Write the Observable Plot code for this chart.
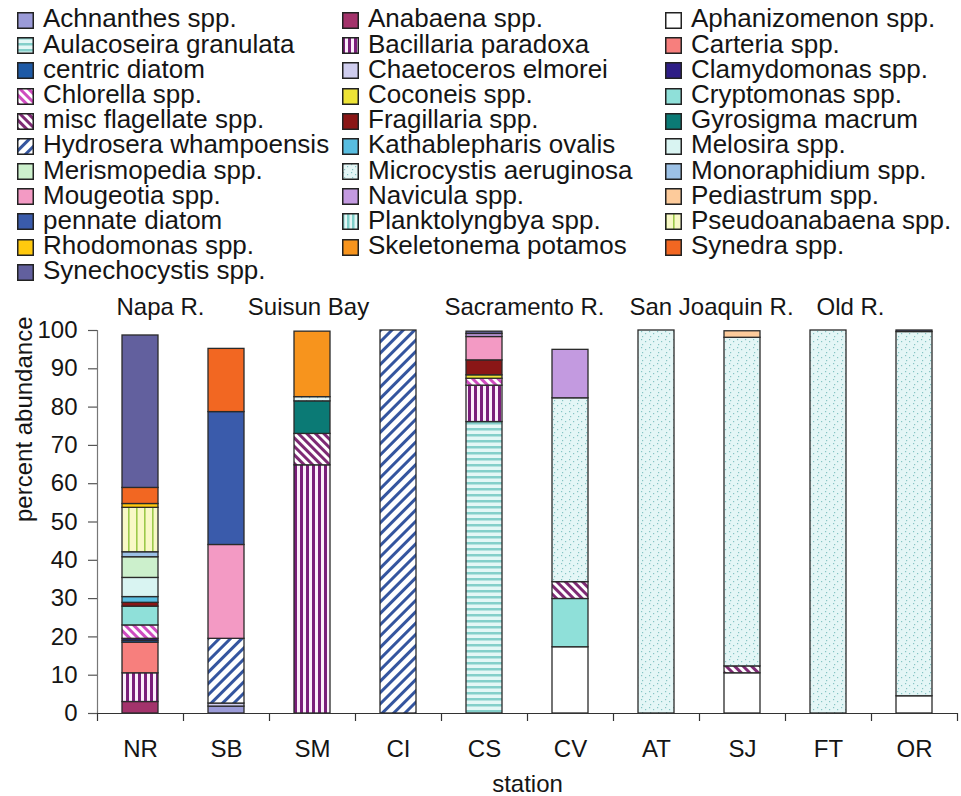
<!DOCTYPE html>
<html><head><meta charset="utf-8">
<script src="https://cdn.jsdelivr.net/npm/d3@7"></script>
<script src="https://cdn.jsdelivr.net/npm/@observablehq/plot@0.6"></script>
<style>
body{margin:0;background:#fff;font-family:"Liberation Sans",Arial,sans-serif;color:#151515;}
#legend{position:relative;height:290px;display:grid;grid-template-columns:325px 323px 296px;grid-auto-rows:25.2px;padding:6.4px 0 0 17px;box-sizing:border-box;font-size:26px;}
.item{display:flex;align-items:center;white-space:nowrap;line-height:25.2px;}
.item svg{flex:none;margin-right:9px;margin-top:3px;}
</style></head><body>
<svg width="0" height="0" style="position:absolute"><defs>
<pattern id="p-aul" patternUnits="userSpaceOnUse" width="6" height="6"><rect width="6" height="6" fill="#e4f7f6"/><rect y="0" width="6" height="2.5" fill="#84cfca"/></pattern>
<pattern id="p-bac" patternUnits="userSpaceOnUse" width="6" height="6"><rect width="6" height="6" fill="#fbeefa"/><rect x="0" width="3" height="6" fill="#7a1e7a"/></pattern>
<pattern id="p-chl" patternUnits="userSpaceOnUse" width="6" height="6" patternTransform="rotate(-45)"><rect width="6" height="6" fill="#ffffff"/><rect x="0" width="3" height="6" fill="#cf4cc0"/></pattern>
<pattern id="p-misc" patternUnits="userSpaceOnUse" width="6" height="6" patternTransform="rotate(-45)"><rect width="6" height="6" fill="#ffffff"/><rect x="0" width="3" height="6" fill="#7e2a74"/></pattern>
<pattern id="p-hyd" patternUnits="userSpaceOnUse" width="8" height="8" patternTransform="rotate(45)"><rect width="8" height="8" fill="#ffffff"/><rect x="0" width="3" height="8" fill="#34559f"/></pattern>
<pattern id="p-mic" patternUnits="userSpaceOnUse" width="8" height="8"><rect width="8" height="8" fill="#e4f6f6"/><rect x="1" y="1" width="1.2" height="1.2" fill="#86c4c4"/><rect x="5" y="3" width="1.2" height="1.2" fill="#86c4c4"/><rect x="2" y="6" width="1.2" height="1.2" fill="#86c4c4"/></pattern>
<pattern id="p-plk" patternUnits="userSpaceOnUse" width="5" height="5"><rect width="5" height="5" fill="#e4f7f6"/><rect x="0" width="2.5" height="5" fill="#7fd0ca"/></pattern>
<pattern id="p-pse" patternUnits="userSpaceOnUse" width="8" height="8"><rect width="8" height="8" fill="#f8f8c6"/><rect x="0" width="1.6" height="8" fill="#9cc94a"/></pattern>
</defs></svg>
<div id="legend"></div>
<div id="chart"></div>
<script>
// ---- data ----
const stations = ["NR","SB","SM","CI","CS","CV","AT","SJ","FT","OR"];
const taxa = [
  "Achnanthes spp.","Anabaena spp.","Aphanizomenon spp.",
  "Aulacoseira granulata","Bacillaria paradoxa","Carteria spp.",
  "centric diatom","Chaetoceros elmorei","Clamydomonas spp.",
  "Chlorella spp.","Coconeis spp.","Cryptomonas spp.",
  "misc flagellate spp.","Fragillaria spp.","Gyrosigma macrum",
  "Hydrosera whampoensis","Kathablepharis ovalis","Melosira spp.",
  "Merismopedia spp.","Microcystis aeruginosa","Monoraphidium spp.",
  "Mougeotia spp.","Navicula spp.","Pediastrum spp.",
  "pennate diatom","Planktolyngbya spp.","Pseudoanabaena spp.",
  "Rhodomonas spp.","Skeletonema potamos","Synedra spp.",
  "Synechocystis spp."
];
const taxonFill = [
  "#9b9bd8","#a3336b","#ffffff",
  "url(#p-aul)","url(#p-bac)","#f77f7d",
  "#1e5aa6","#cfcdee","#2e1d86",
  "url(#p-chl)","#ede336","#8fe0d9",
  "url(#p-misc)","#8a1616","#0b7a75",
  "url(#p-hyd)","#58bde0","#d9f4f2",
  "#ccf0cc","url(#p-mic)","#9cc1e6",
  "#f39ac4","#c39ae0","#fdcb9b",
  "#3a5bab","url(#p-plk)","url(#p-pse)",
  "#ffc90e","#f7941d","#f26722",
  "#62609e"
];
const NR_taxa = ["Anabaena spp.","Bacillaria paradoxa","Carteria spp.","centric diatom","Clamydomonas spp.","Chlorella spp.","Cryptomonas spp.","Fragillaria spp.","Kathablepharis ovalis","Melosira spp.","Merismopedia spp.","Monoraphidium spp.","Pseudoanabaena spp.","Rhodomonas spp.","Synedra spp.","Synechocystis spp."];
const NR_pct  = [3.0,7.5,8.0,0.5,0.5,3.5,4.9,1.0,1.5,5.0,5.4,1.3,11.6,1.0,4.2,39.8];
const SB_taxa = ["Achnanthes spp.","Chaetoceros elmorei","Hydrosera whampoensis","Mougeotia spp.","pennate diatom","Synedra spp."];
const SB_pct  = [1.8,0.8,16.9,24.5,34.7,16.5];
const SM_taxa = ["Bacillaria paradoxa","misc flagellate spp.","Gyrosigma macrum","Microcystis aeruginosa","Skeletonema potamos"];
const SM_pct  = [64.8,8.2,8.5,1.1,17.1];
const CI_taxa = ["Hydrosera whampoensis"];
const CI_pct  = [100];
const CS_taxa = ["Aulacoseira granulata","Bacillaria paradoxa","Chlorella spp.","Coconeis spp.","Fragillaria spp.","Mougeotia spp.","Navicula spp.","Synechocystis spp."];
const CS_pct  = [76.1,9.5,1.8,0.9,3.9,6.1,0.8,0.6];
const CV_taxa = ["Aphanizomenon spp.","Cryptomonas spp.","misc flagellate spp.","Microcystis aeruginosa","Navicula spp."];
const CV_pct  = [17.3,12.6,4.4,48.0,12.65];
const AT_taxa = ["Microcystis aeruginosa"];
const AT_pct  = [100];
const SJ_taxa = ["Aphanizomenon spp.","misc flagellate spp.","Microcystis aeruginosa","Pediastrum spp."];
const SJ_pct  = [10.5,1.8,85.8,1.7];
const FT_taxa = ["Microcystis aeruginosa"];
const FT_pct  = [100];
const OR_taxa = ["Aphanizomenon spp.","Microcystis aeruginosa","Synechocystis spp."];
const OR_pct  = [4.5,95.1,0.4];
const yTicks = [0,10,20,30,40,50,60,70,80,90,100];
const groupNames = ["Napa R.","Suisun Bay","Sacramento R.","San Joaquin R.","Old R."];
const groupStation = ["NR","SM","CS","SJ","FT"];

// ---- table ----
const stationTaxa = {NR:NR_taxa,SB:SB_taxa,SM:SM_taxa,CI:CI_taxa,CS:CS_taxa,CV:CV_taxa,AT:AT_taxa,SJ:SJ_taxa,FT:FT_taxa,OR:OR_taxa};
const stationPct = {NR:NR_pct,SB:SB_pct,SM:SM_pct,CI:CI_pct,CS:CS_pct,CV:CV_pct,AT:AT_pct,SJ:SJ_pct,FT:FT_pct,OR:OR_pct};
const rows = [];
for (const s of stations) stationTaxa[s].forEach((t, i) => rows.push({station: s, taxon: t, pct: stationPct[s][i]}));

// ---- legend ----
const legend = document.getElementById("legend");
taxa.forEach((t, i) => {
  const d = document.createElement("div");
  d.className = "item";
  d.innerHTML = `<svg width="17" height="17"><rect x="0.75" y="0.75" width="15.5" height="15.5" fill="${taxonFill[i]}" stroke="#222" stroke-width="1.5"/></svg><span>${t}</span>`;
  legend.appendChild(d);
});

// ---- chart ----
const W = 961, H = 506, ML = 97, MR = 4, MT = 40, MB = 83;
const step = (W - ML - MR) / stations.length;
const groupDx = [20, -4, 40, -31, 22];
const chart = Plot.plot({
  width: W, height: H,
  marginLeft: ML, marginRight: MR, marginTop: MT, marginBottom: MB,
  style: {fontFamily: "Liberation Sans, Arial, sans-serif", fontSize: "24px", color: "#151515", background: "#fff", overflow: "visible"},
  x: {domain: stations, paddingInner: 0.58, paddingOuter: 0.29},
  y: {domain: [0, 100], axis: null},
  color: {domain: taxa, range: taxonFill},
  marks: [
    Plot.barY(rows, Plot.stackY({x: "station", y: "pct", z: "taxon", fill: "taxon", order: taxa, stroke: "#2a2a2a", strokeWidth: 1.3})),
    Plot.ruleY([0], {stroke: "#333", strokeWidth: 1.2}),
    Plot.ruleX([stations[0]], {x: d => d, dx: -step / 2, y1: 0, y2: 100, stroke: "#777", strokeWidth: 1.2}),
    Plot.ruleX(stations, {x: d => d, dx: -step / 2, y1: 0, y2: 0, insetBottom: -8, stroke: "#333", strokeWidth: 1.2}),
    Plot.ruleX([stations[stations.length - 1]], {x: d => d, dx: step / 2, y1: 0, y2: 0, insetBottom: -8, stroke: "#333", strokeWidth: 1.2}),
    // y ticks and labels
    Plot.ruleY(yTicks, {y: d => d, insetLeft: -9, insetRight: W - ML - MR, stroke: "#555", strokeWidth: 1.2}),
    Plot.text(yTicks, {y: d => d, text: d => String(d), frameAnchor: "left", textAnchor: "end", dx: -20, fontSize: 24}),
    Plot.axisX({tickSize: 0, tickPadding: 26, label: null, fontSize: 24}),
    Plot.text(["percent abundance"], {frameAnchor: "left", dx: -73, rotate: -90, fontSize: 24}),
    Plot.text(["station"], {frameAnchor: "bottom", lineAnchor: "middle", dy: 71, fontSize: 24}),
    ...groupNames.map((g, i) => Plot.text([g], {x: () => groupStation[i], frameAnchor: "top", lineAnchor: "middle", dy: -23, dx: groupDx[i], fontSize: 24}))
  ]
});
document.getElementById("chart").appendChild(chart);
</script>
</body></html>
